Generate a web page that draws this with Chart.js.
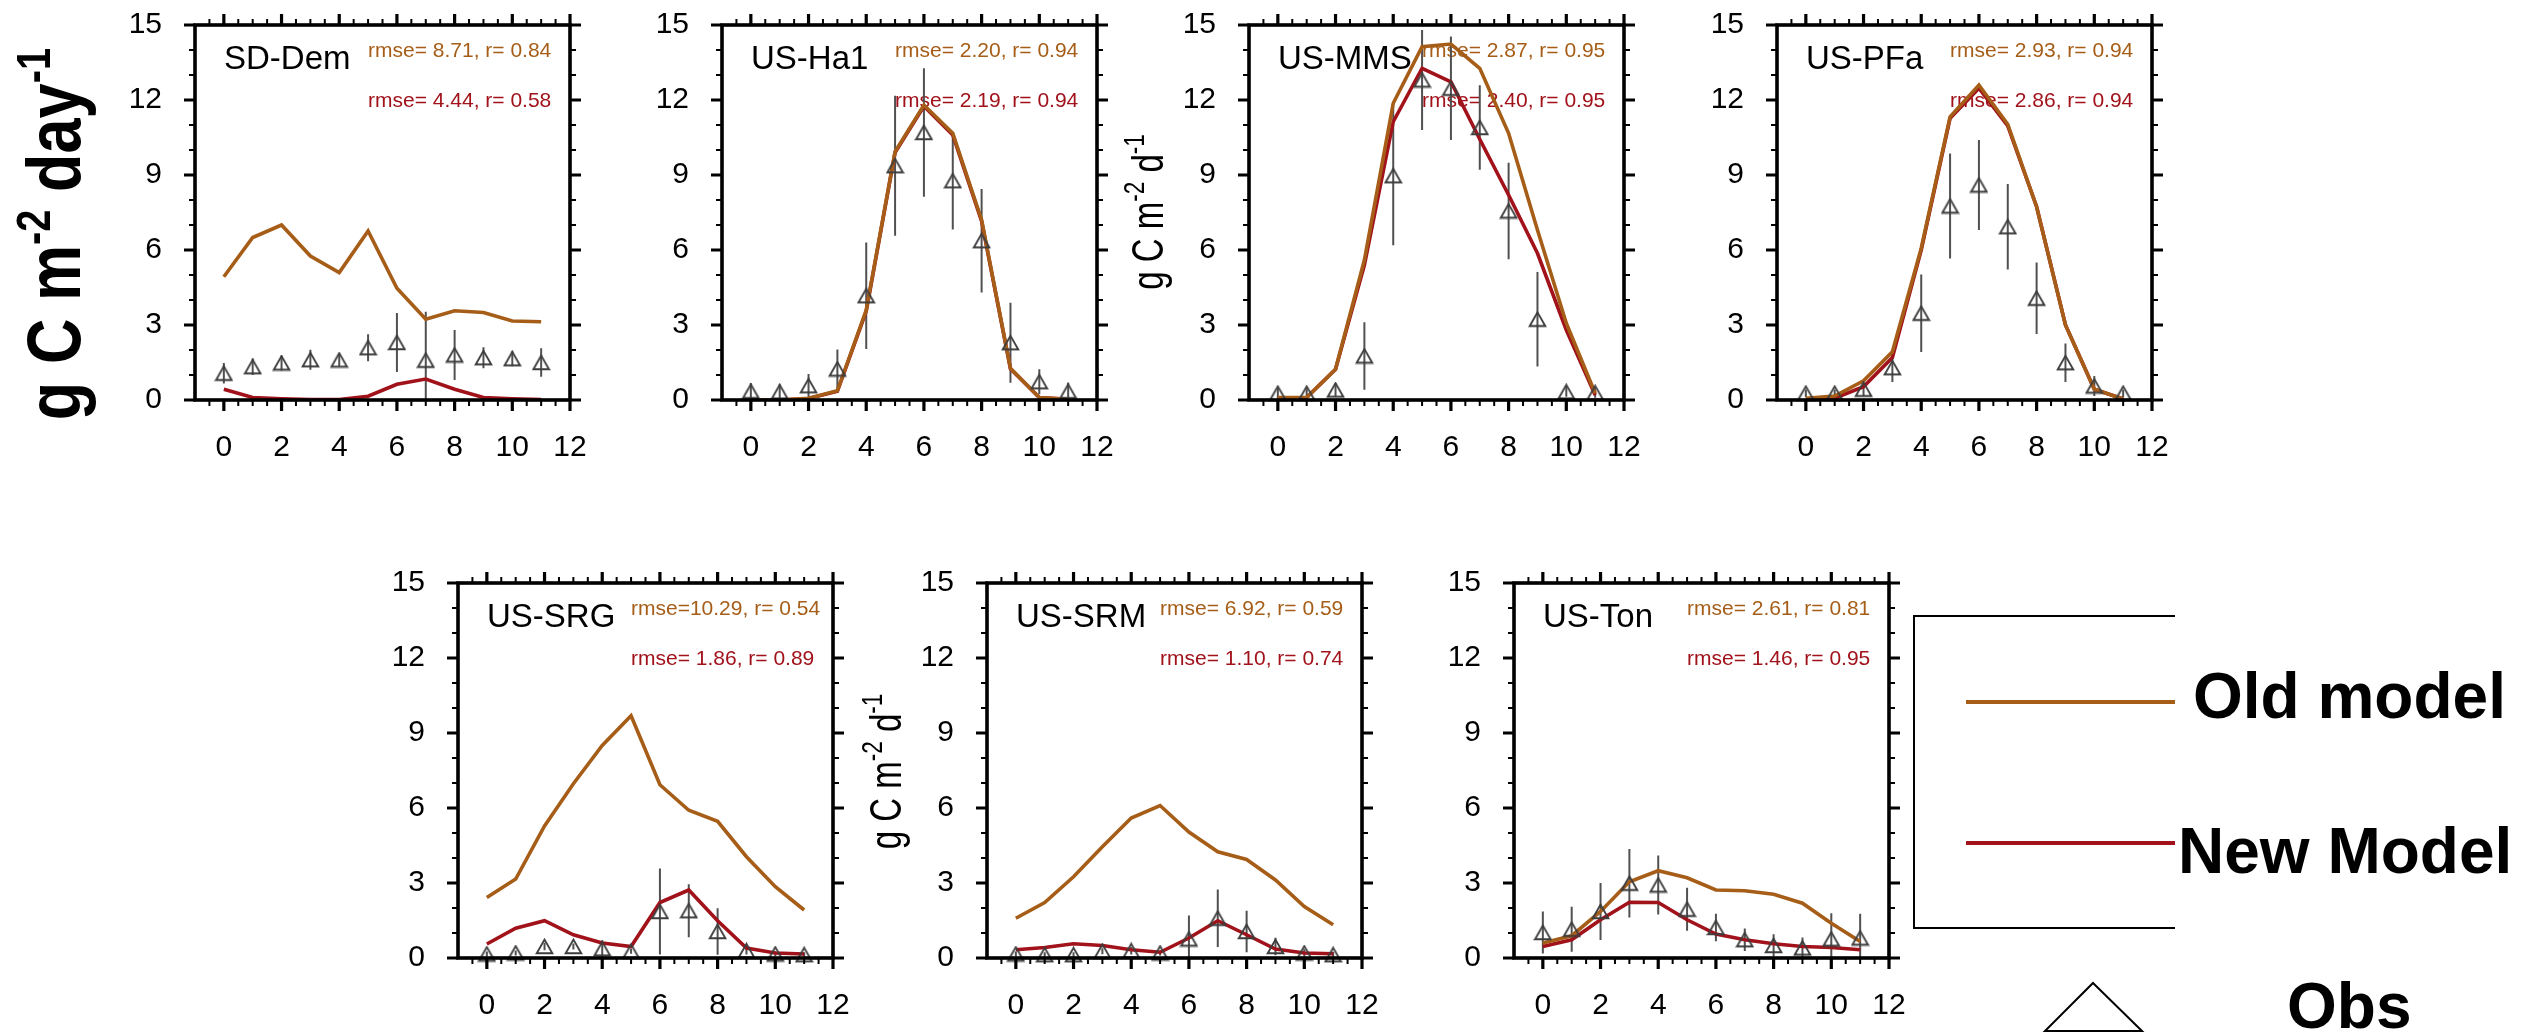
<!DOCTYPE html>
<html>
<head>
<meta charset="utf-8">
<script src="https://cdn.jsdelivr.net/npm/chart.js@4.4.1/dist/chart.umd.min.js"></script>
<style>
html,body{margin:0;padding:0;background:#fff;overflow:hidden;width:2528px;height:1033px;}
canvas{position:absolute;}
#ov{position:absolute;left:0;top:0;pointer-events:none;}
</style>
</head>
<body>
<svg id="ov" width="2528" height="1033" font-family='"Liberation Sans", Arial, Helvetica, sans-serif'>
  <g transform="translate(80,234) rotate(-90) scale(0.83,1)">
    <text text-anchor="middle" font-weight="bold" font-size="76" fill="#000">g C m<tspan dy="-30" font-size="48">-2</tspan><tspan dy="30"> day</tspan><tspan dy="-30" font-size="48">-1</tspan></text>
  </g>
  <g transform="translate(1163,212) rotate(-90) scale(0.75,1)">
    <text text-anchor="middle" font-size="44" fill="#000">g C m<tspan dy="-19" font-size="30">-2</tspan><tspan dy="19"> d</tspan><tspan dy="-19" font-size="30">-1</tspan></text>
  </g>
  <g transform="translate(901,771.5) rotate(-90) scale(0.75,1)">
    <text text-anchor="middle" font-size="44" fill="#000">g C m<tspan dy="-19" font-size="30">-2</tspan><tspan dy="19"> d</tspan><tspan dy="-19" font-size="30">-1</tspan></text>
  </g>
  <path d="M2175,616 H1914 V928 H2175" fill="none" stroke="#000" stroke-width="2"/>
  <line x1="1966" y1="702" x2="2175" y2="702" stroke="#A65D17" stroke-width="4"/>
  <line x1="1966" y1="843" x2="2175" y2="843" stroke="#A1121B" stroke-width="4"/>
  <text x="2193" y="718" font-weight="bold" font-size="64" fill="#000">Old model</text>
  <text x="2178" y="873" font-weight="bold" font-size="64" fill="#000">New Model</text>
  <text x="2287" y="1028" font-weight="bold" font-size="64" fill="#000">Obs</text>
  <polygon points="2093,983 2142,1031 2045,1031" fill="none" stroke="#000" stroke-width="2"/>
</svg>
<script>
// ---------------- DATA ----------------
const months = [0,1,2,3,4,5,6,7,8,9,10,11];
const xTickVals = [0,2,4,6,8,10,12];
const yTickVals = [0,3,6,9,12,15];

const sites = ['SD-Dem','US-Ha1','US-MMS','US-PFa','US-SRG','US-SRM','US-Ton'];
const oldRmse = [8.71, 2.20, 2.87, 2.93, 10.29, 6.92, 2.61];
const oldR    = [0.84, 0.94, 0.95, 0.94, 0.54, 0.59, 0.81];
const newRmse = [4.44, 2.19, 2.40, 2.86, 1.86, 1.10, 1.46];
const newR    = [0.58, 0.94, 0.95, 0.94, 0.89, 0.74, 0.95];

const sdDemOld = [4.93, 6.50, 7.00, 5.76, 5.10, 6.76, 4.47, 3.23, 3.57, 3.50, 3.16, 3.13];
const sdDemNew = [0.43, 0.10, 0.05, 0.02, 0.02, 0.15, 0.63, 0.84, 0.43, 0.10, 0.05, 0.02];
const sdDemObs = [1.07, 1.33, 1.48, 1.61, 1.60, 2.09, 2.30, 1.59, 1.80, 1.69, 1.65, 1.50];
const sdDemErr = [0.41, 0.33, 0.30, 0.40, 0.25, 0.54, 1.18, 1.94, 1.00, 0.42, 0.30, 0.57];

const usHa1Old = [0.00, 0.00, 0.07, 0.37, 3.60, 9.93, 11.80, 10.67, 7.20, 1.27, 0.10, 0.03];
const usHa1New = [0.00, 0.00, 0.06, 0.35, 3.55, 9.90, 11.75, 10.60, 7.15, 1.25, 0.10, 0.03];
const usHa1Obs = [0.35, 0.33, 0.57, 1.24, 4.17, 9.37, 10.70, 8.77, 6.37, 2.29, 0.73, 0.35];
const usHa1Err = [0.33, 0.30, 0.47, 0.78, 2.13, 2.80, 2.57, 1.95, 2.07, 1.60, 0.50, 0.35];

const usMmsOld = [0.10, 0.10, 1.23, 5.60, 11.87, 14.13, 14.24, 13.27, 10.67, 6.80, 3.07, 0.27];
const usMmsNew = [0.07, 0.10, 1.23, 5.40, 11.13, 13.27, 12.73, 10.43, 8.20, 5.87, 2.80, 0.20];
const usMmsObs = [0.27, 0.27, 0.40, 1.76, 8.97, 12.80, 12.47, 10.90, 7.56, 3.23, 0.33, 0.29];
const usMmsErr = [0.20, 0.20, 0.27, 1.35, 2.78, 2.00, 2.07, 1.69, 1.93, 1.89, 0.20, 0.20];

const usPfaOld = [0.07, 0.16, 0.77, 1.93, 6.07, 11.33, 12.60, 11.03, 7.73, 3.00, 0.43, 0.04];
const usPfaNew = [0.04, 0.07, 0.53, 1.70, 6.00, 11.27, 12.47, 10.96, 7.73, 3.00, 0.43, 0.04];
const usPfaObs = [0.27, 0.27, 0.43, 1.29, 3.47, 7.76, 8.60, 6.93, 4.07, 1.49, 0.56, 0.27];
const usPfaErr = [0.15, 0.15, 0.27, 0.57, 1.55, 2.10, 1.80, 1.71, 1.43, 0.77, 0.40, 0.15];

const usSrgOld = [2.42, 3.16, 5.28, 6.97, 8.50, 9.69, 6.93, 5.91, 5.47, 4.05, 2.85, 1.92];
const usSrgNew = [0.56, 1.19, 1.49, 0.93, 0.60, 0.46, 2.22, 2.72, 1.49, 0.40, 0.20, 0.16];
const usSrgObs = [0.16, 0.20, 0.46, 0.46, 0.37, 0.27, 1.86, 1.89, 1.06, 0.29, 0.16, 0.13];
const usSrgErr = [0.10, 0.10, 0.15, 0.12, 0.33, 0.10, 1.72, 1.06, 0.93, 0.15, 0.10, 0.10];

const usSrmOld = [1.59, 2.22, 3.25, 4.45, 5.60, 6.10, 5.04, 4.25, 3.94, 3.12, 2.06, 1.33];
const usSrmNew = [0.33, 0.42, 0.57, 0.50, 0.33, 0.23, 0.80, 1.49, 0.93, 0.36, 0.20, 0.17];
const usSrmObs = [0.16, 0.13, 0.13, 0.27, 0.29, 0.20, 0.76, 1.59, 1.06, 0.46, 0.20, 0.13];
const usSrmErr = [0.10, 0.10, 0.10, 0.12, 0.15, 0.10, 0.94, 1.15, 0.83, 0.35, 0.15, 0.12];

const usTonOld = [0.60, 0.89, 1.86, 3.05, 3.49, 3.21, 2.72, 2.69, 2.55, 2.19, 1.39, 0.66];
const usTonNew = [0.46, 0.73, 1.53, 2.23, 2.22, 1.53, 0.96, 0.73, 0.57, 0.46, 0.42, 0.33];
const usTonObs = [1.02, 1.15, 1.86, 2.99, 2.92, 1.95, 1.22, 0.73, 0.50, 0.40, 0.76, 0.80];
const usTonErr = [0.84, 0.90, 1.14, 1.37, 1.18, 0.86, 0.55, 0.45, 0.45, 0.42, 1.03, 0.97];

// ---------------- STYLE / LAYOUT ----------------
const FONT = '"Liberation Sans", Arial, Helvetica, sans-serif';
const ORANGE = '#A65D17', RED = '#A1121B', OBSC = '#3d3d3d', ERRC = '#505050';
const panelBoxes = [[195,25],[722,25],[1249,25],[1777,25],[458,583],[987,583],[1514,583]];
const BOX = 375, PADL = 100, PADT = 25, PADR = 30, PADB = 85;
const CW = PADL + BOX + PADR, CH = PADT + BOX + PADB;

const panels = [
  [sdDemOld, sdDemNew, sdDemObs, sdDemErr],
  [usHa1Old, usHa1New, usHa1Obs, usHa1Err],
  [usMmsOld, usMmsNew, usMmsObs, usMmsErr],
  [usPfaOld, usPfaNew, usPfaObs, usPfaErr],
  [usSrgOld, usSrgNew, usSrgObs, usSrgErr],
  [usSrmOld, usSrmNew, usSrmObs, usSrmErr],
  [usTonOld, usTonNew, usTonObs, usTonErr]
];

function fmt(rmse, r){ return 'rmse=' + rmse.toFixed(2).padStart(5, ' ') + ', r= ' + r.toFixed(2); }

function makeTriangle(){
  const c = document.createElement('canvas');
  c.width = 19; c.height = 17;
  const g = c.getContext('2d');
  g.strokeStyle = OBSC; g.lineWidth = 1.9; g.lineJoin = 'miter';
  g.beginPath(); g.moveTo(9.5, 1.6); g.lineTo(17.3, 15.2); g.lineTo(1.7, 15.2); g.closePath(); g.stroke();
  return c;
}
const TRI = makeTriangle();

const decoPlugin = {
  id: 'deco',
  beforeDatasetsDraw(chart, args, o){
    const a = chart.chartArea, ctx = chart.ctx, xs = chart.scales.x, ys = chart.scales.y;
    ctx.save();
    ctx.textAlign = 'left'; ctx.textBaseline = 'alphabetic';
    ctx.fillStyle = '#000'; ctx.font = '33px ' + FONT;
    ctx.fillText(o.title, a.left + 29, a.top + 43.5);
    ctx.font = '21px ' + FONT;
    ctx.fillStyle = ORANGE; ctx.fillText(o.oldTxt, a.left + 173, a.top + 32);
    ctx.fillStyle = RED; ctx.fillText(o.newTxt, a.left + 173, a.top + 81.5);
    // error bars
    ctx.beginPath(); ctx.rect(a.left, a.top, a.right - a.left, a.bottom - a.top); ctx.clip();
    ctx.strokeStyle = ERRC; ctx.lineWidth = 2;
    o.obs.forEach((v, i) => {
      const px = xs.getPixelForValue(months[i]);
      ctx.beginPath();
      ctx.moveTo(px, ys.getPixelForValue(v + o.err[i]));
      ctx.lineTo(px, ys.getPixelForValue(v - o.err[i]));
      ctx.stroke();
    });
    ctx.restore();
  },
  afterDraw(chart){
    const a = chart.chartArea, ctx = chart.ctx, xs = chart.scales.x, ys = chart.scales.y;
    ctx.save();
    ctx.strokeStyle = '#000'; ctx.lineCap = 'butt';
    for (let v = -0.5; v <= 12.001; v += 0.5) {
      const major = xTickVals.includes(v);
      const len = major ? 11 : 6;
      ctx.lineWidth = major ? 3.2 : 2;
      const px = xs.getPixelForValue(v);
      ctx.beginPath();
      ctx.moveTo(px, a.bottom); ctx.lineTo(px, a.bottom + len);
      ctx.moveTo(px, a.top); ctx.lineTo(px, a.top - len);
      ctx.stroke();
    }
    for (let v = 0; v <= 15; v += 1) {
      const major = yTickVals.includes(v);
      const len = major ? 11 : 6;
      ctx.lineWidth = major ? 3.2 : 2;
      const py = ys.getPixelForValue(v);
      ctx.beginPath();
      ctx.moveTo(a.left, py); ctx.lineTo(a.left - len, py);
      ctx.moveTo(a.right, py); ctx.lineTo(a.right + len, py);
      ctx.stroke();
    }
    ctx.lineWidth = 3.6;
    ctx.strokeRect(a.left, a.top, a.right - a.left, a.bottom - a.top);
    ctx.restore();
  }
};

Chart.defaults.font.family = FONT;

panels.forEach((p, k) => {
  const [oldV, newV, obsV, errV] = p;
  const [bx, by] = panelBoxes[k];
  const cv = document.createElement('canvas');
  cv.width = CW; cv.height = CH;
  cv.style.width = CW + 'px'; cv.style.height = CH + 'px';
  cv.style.left = (bx - PADL) + 'px'; cv.style.top = (by - PADT) + 'px';
  document.body.insertBefore(cv, document.getElementById('ov'));
  const pts = arr => months.map((m, i) => ({x: m, y: arr[i]}));
  new Chart(cv.getContext('2d'), {
    type: 'line',
    data: {
      datasets: [
        {label: 'Obs', data: pts(obsV), showLine: false, pointStyle: TRI, pointRadius: 8, pointHoverRadius: 8, clip: false},
        {label: 'Old model', data: pts(oldV), borderColor: ORANGE, borderWidth: 3.6, pointRadius: 0, fill: false, tension: 0},
        {label: 'New Model', data: pts(newV), borderColor: RED, borderWidth: 3.6, pointRadius: 0, fill: false, tension: 0}
      ]
    },
    options: {
      responsive: false, animation: false, devicePixelRatio: 1,
      events: [],
      layout: {padding: {left: 0, top: PADT, right: PADR, bottom: 0}, autoPadding: false},
      plugins: {
        legend: {display: false}, tooltip: {enabled: false},
        deco: {title: sites[k], oldTxt: fmt(oldRmse[k], oldR[k]), newTxt: fmt(newRmse[k], newR[k]), obs: obsV, err: errV}
      },
      scales: {
        x: {
          type: 'linear', min: -1, max: 12,
          grid: {display: false, drawTicks: false}, border: {display: false},
          ticks: {color: '#000', font: {size: 30}, padding: 30, autoSkip: false, maxRotation: 0, minRotation: 0},
          afterBuildTicks: s => { s.ticks = xTickVals.map(v => ({value: v})); },
          afterFit: s => { s.height = PADB; s.paddingLeft = 0; s.paddingRight = 0; }
        },
        y: {
          type: 'linear', min: 0, max: 15,
          grid: {display: false, drawTicks: false}, border: {display: false},
          ticks: {color: '#000', font: {size: 30}, padding: 33, autoSkip: false},
          afterBuildTicks: s => { s.ticks = yTickVals.map(v => ({value: v})); },
          afterFit: s => { s.width = PADL; s.paddingTop = 0; s.paddingBottom = 0; }
        }
      }
    },
    plugins: [decoPlugin]
  });
});
</script>
</body>
</html>
